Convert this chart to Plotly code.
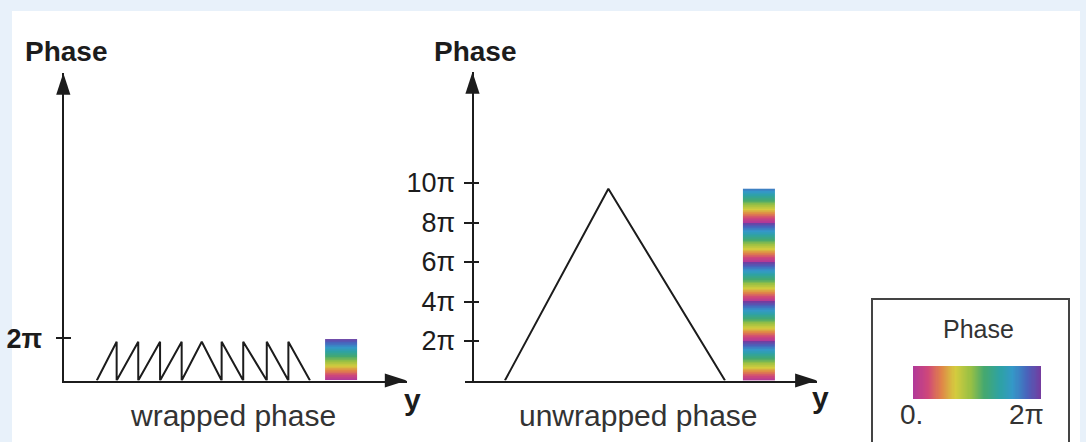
import numpy as np
import plotly.graph_objects as go

W, H = 1086, 442

# ---------------- data (phase in units of pi, position in arbitrary units) -------------
wrapped_pos = [1.55, 2.47, 2.47, 3.47, 3.47, 4.48, 4.48, 5.48, 5.48, 6.41,
               7.33, 7.33, 8.33, 8.33, 9.42, 9.42, 10.42, 10.42, 11.42]
wrapped_phase = [0, 1.83, 0, 1.83, 0, 1.83, 0, 1.83, 0, 1.83,
                 0, 1.83, 0, 1.83, 0, 1.83, 0, 1.83, 0]
wrapped_bar_pos = [12.12, 13.60]      # left/right edge of the colour patch
wrapped_bar_top = 1.96                # top of the colour patch (x pi)

unwrapped_pos = [1.50, 6.29, 11.69]
unwrapped_phase = [0, 9.71, 0]
unwrapped_bar_pos = [12.52, 14.00]
unwrapped_bar_top = 9.71

left_tick_vals = [2]
left_tick_text = ["<b>2π</b>"]
mid_tick_vals = [2, 4, 6, 8, 10]
mid_tick_text = ["2π", "4π", "6π", "8π", "10π"]
legend_min, legend_max = 0, 2
legend_labels = ["0.", "2π"]

phase_colors = [
    [0.00, "#b0389a"], [0.12, "#d04878"], [0.22, "#e08448"], [0.33, "#d4cc3e"],
    [0.45, "#98c044"], [0.56, "#44a870"], [0.68, "#2ea2a4"], [0.78, "#3498c8"],
    [0.89, "#4864bc"], [1.00, "#763a9e"],
]

INK = "#1c1c1c"
FONT = "Liberation Sans, Arial, sans-serif"


def fx(p):
    return p / W


def fy(p):
    return 1 - p / H


fig = go.Figure()

# ---------------- left panel: wrapped phase ----------------
fig.add_trace(go.Scatter(x=wrapped_pos, y=wrapped_phase, mode="lines",
                         line=dict(color=INK, width=2), xaxis="x", yaxis="y",
                         hoverinfo="skip"))
n = 60
edges = np.linspace(0, wrapped_bar_top, n + 1)
centers = (edges[:-1] + edges[1:]) / 2
fig.add_trace(go.Heatmap(x=wrapped_bar_pos, y=edges,
                         z=[[c % 2] for c in centers], zmin=0, zmax=2,
                         colorscale=phase_colors, showscale=False,
                         xaxis="x", yaxis="y", hoverinfo="skip"))

# ---------------- middle panel: unwrapped phase ----------------
fig.add_trace(go.Scatter(x=unwrapped_pos, y=unwrapped_phase, mode="lines",
                         line=dict(color=INK, width=2), xaxis="x2", yaxis="y2",
                         hoverinfo="skip"))
n = 300
edges = np.linspace(0, unwrapped_bar_top, n + 1)
centers = (edges[:-1] + edges[1:]) / 2
fig.add_trace(go.Heatmap(x=unwrapped_bar_pos, y=edges,
                         z=[[c % 2] for c in centers], zmin=0, zmax=2,
                         colorscale=phase_colors, showscale=False,
                         xaxis="x2", yaxis="y2", hoverinfo="skip"))

# ---------------- legend colour bar ----------------
m = 120
ledges = np.linspace(legend_min, legend_max, m + 1)
lcent = (ledges[:-1] + ledges[1:]) / 2
fig.add_trace(go.Heatmap(x=ledges, y=[0, 1], z=[list(lcent)], zmin=legend_min,
                         zmax=legend_max, colorscale=phase_colors, showscale=False,
                         xaxis="x3", yaxis="y3", hoverinfo="skip"))

# ---------------- axes geometry ----------------
# left
L_ox, L_oy = 63.3, 380.5        # pixel origin
L_sx, L_sy = 21.6, 21.15        # px per unit
L_x0, L_x1 = 61.7, 406.7
L_ytop = 73
lx_range = [(L_x0 - L_ox) / L_sx, (L_x1 - L_ox) / L_sx]
ly_range = [0, (L_oy - L_ytop) / L_sy]

# middle
M_ox, M_oy = 472.5, 380.5
M_sx, M_sy = 21.6, 19.75
M_x0, M_x1 = 465, 817
M_ytop = 72
mx_range = [(M_x0 - M_ox) / M_sx, (M_x1 - M_ox) / M_sx]
my_range = [0, (M_oy - M_ytop) / M_sy]

xcommon = dict(showgrid=False, showticklabels=False, ticks="", showline=True,
               linecolor=INK, linewidth=2, zeroline=True, zerolinecolor=INK,
               zerolinewidth=2, fixedrange=True)
ycommon = dict(showgrid=False, showline=False, zeroline=False, ticks="outside",
               ticklen=15, tickwidth=2, tickcolor=INK, anchor="free", side="left",
               fixedrange=True)

fig.update_layout(
    xaxis=dict(domain=[fx(L_x0), fx(L_x1)], range=lx_range, anchor="y", **xcommon),
    yaxis=dict(domain=[fy(L_oy), fy(L_ytop)], range=ly_range,
               position=fx(70.5), tickvals=left_tick_vals, ticktext=left_tick_text,
               tickfont=dict(size=27, color=INK, family=FONT), ticklabelstandoff=8,
               **ycommon),
    xaxis2=dict(domain=[fx(M_x0), fx(M_x1)], range=mx_range, anchor="y2", **xcommon),
    yaxis2=dict(domain=[fy(M_oy), fy(M_ytop)], range=my_range,
                position=fx(478.5), tickvals=mid_tick_vals, ticktext=mid_tick_text,
                tickfont=dict(size=27, color=INK, family=FONT), ticklabelstandoff=3,
                **ycommon),
    xaxis3=dict(domain=[fx(913), fx(1041)], range=[legend_min, legend_max],
                visible=False, anchor="y3", fixedrange=True),
    yaxis3=dict(domain=[fy(399), fy(366)], range=[0, 1], visible=False,
                anchor="x3", fixedrange=True),
)

# arrow heads at the ends of the axes
fig.add_trace(go.Scatter(x=[0, lx_range[1]], y=[ly_range[1], 0], mode="markers",
                         marker=dict(symbol="arrow", size=23, angle=[0, 90], color=INK,
                                     line=dict(width=0)),
                         xaxis="x", yaxis="y", cliponaxis=False, hoverinfo="skip"))
fig.add_trace(go.Scatter(x=[0, mx_range[1]], y=[my_range[1], 0], mode="markers",
                         marker=dict(symbol="arrow", size=23, angle=[0, 90], color=INK,
                                     line=dict(width=0)),
                         xaxis="x2", yaxis="y2", cliponaxis=False, hoverinfo="skip"))

# ---------------- background, legend box ----------------
fig.add_shape(type="rect", xref="paper", yref="paper", x0=fx(12), x1=fx(1080),
              y0=fy(445), y1=fy(11), fillcolor="white", line=dict(width=0),
              layer="below")
fig.add_shape(type="rect", xref="paper", yref="paper", x0=fx(872), x1=fx(1069),
              y0=fy(446), y1=fy(299), fillcolor="rgba(0,0,0,0)",
              line=dict(color="#444444", width=2), layer="above")


def txt(p_x, p_y, s, size, color=INK, xanchor="center"):
    fig.add_annotation(x=fx(p_x), y=fy(p_y), xref="paper", yref="paper", text=s,
                       showarrow=False, xanchor=xanchor, yanchor="middle",
                       font=dict(size=size, color=color, family=FONT))


txt(66, 51, "<b>Phase</b>", 28)
txt(475, 51, "<b>Phase</b>", 28)
txt(412, 399, "<b>y</b>", 30)
txt(820, 397, "<b>y</b>", 30)
txt(233, 415, "wrapped phase", 30, "#333333")
txt(638, 415, "unwrapped phase", 30, "#333333")
txt(978, 329, "Phase", 25, "#333333")
txt(898, 414, legend_labels[0], 28, "#333333", xanchor="left")
txt(1046, 414, legend_labels[1], 28, "#333333", xanchor="right")

fig.update_layout(width=W, height=H, margin=dict(l=0, r=0, t=0, b=0),
                  paper_bgcolor="#e8f1fa", plot_bgcolor="rgba(0,0,0,0)",
                  showlegend=False, hovermode=False, font=dict(family=FONT))

fig.write_html("out.html", config={"displayModeBar": False},
               post_script="document.body.style.margin='0';"
                           "document.body.style.overflow='hidden';")
